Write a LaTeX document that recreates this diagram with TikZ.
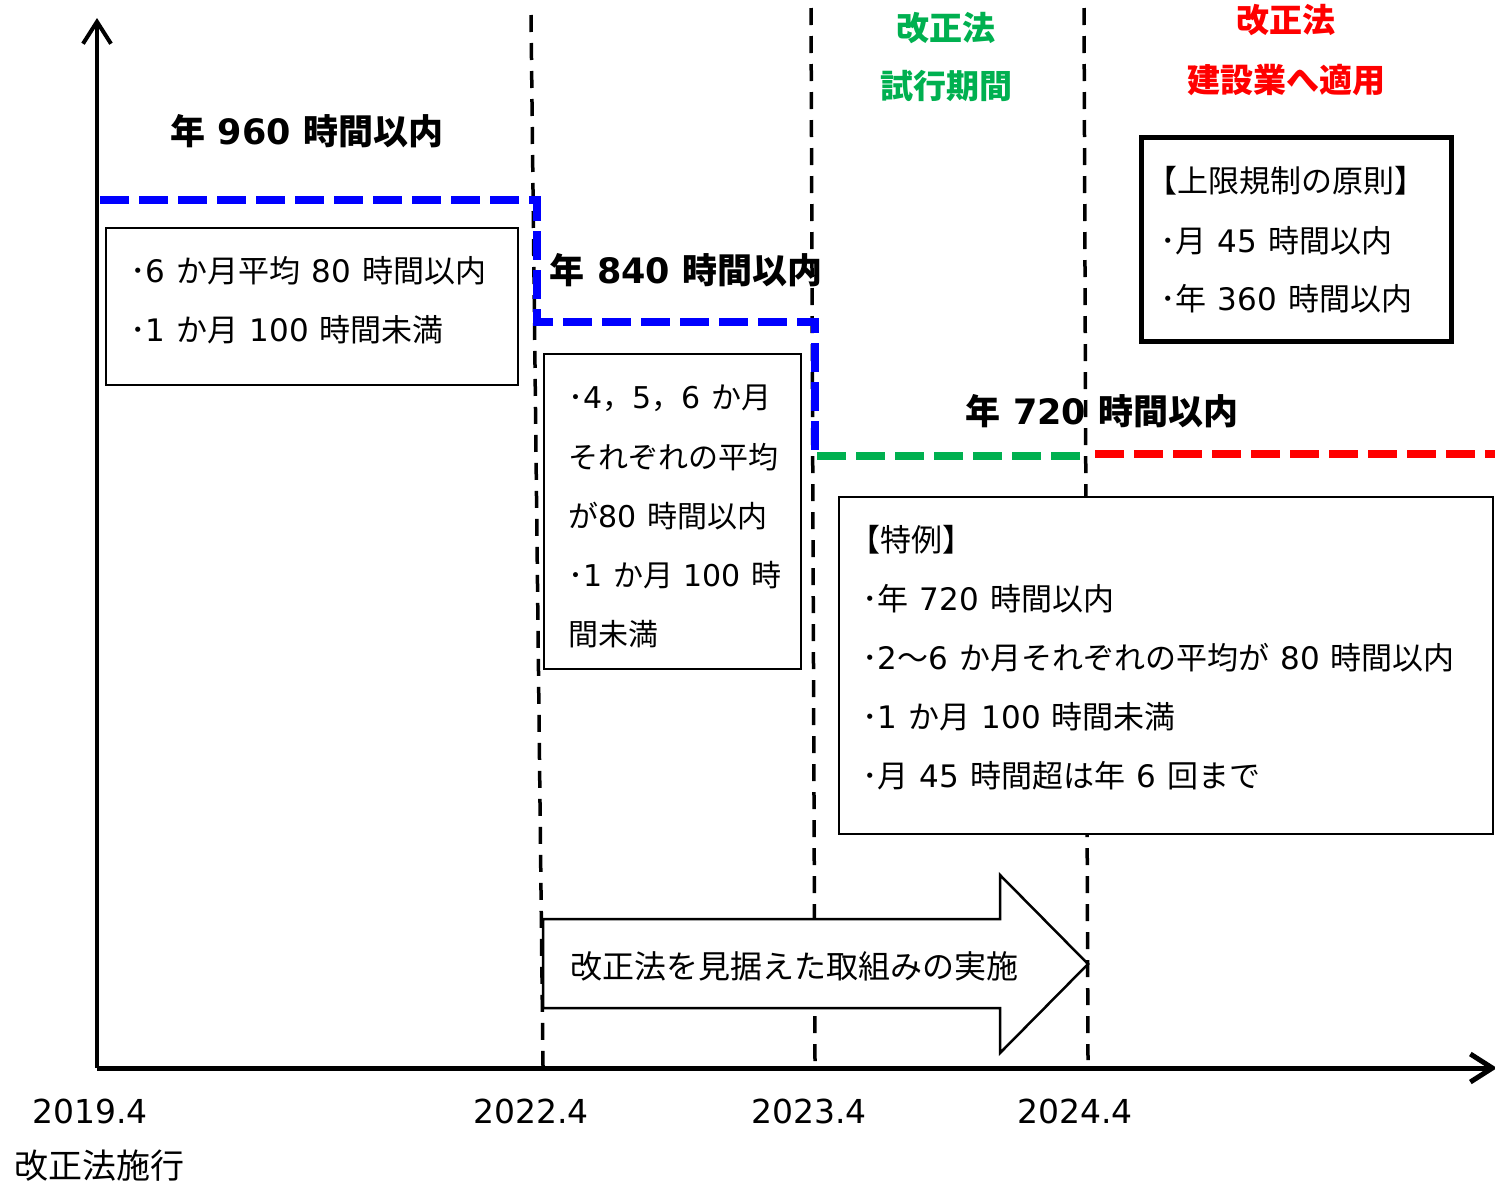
\documentclass[tikz,border=0pt]{standalone}
\usepackage{fontspec}
\setmainfont{Noto Sans CJK JP}[WordSpace=1.6]
\newfontfamily\dv{DejaVu Sans}
\newcommand\nm[1]{{\dv #1}}
\usetikzlibrary{arrows.meta}
\definecolor{cgreen}{RGB}{0,176,80}
\definecolor{cblue}{RGB}{0,0,255}
\definecolor{cred}{RGB}{255,0,0}
\begin{document}
\begin{tikzpicture}[x=1pt,y=-1pt,
  vdash/.style={line width=3.5pt, dash pattern=on 17pt off 11pt},
  limit/.style={line width=8.5pt, dash pattern=on 29pt off 10pt},
  txtbox/.style={draw, line width=2pt, fill=white, anchor=north west, inner sep=0pt},
  body/.style={anchor=west, inner sep=0pt, font=\fontsize{31}{36}\selectfont},
  bodyB/.style={anchor=west, inner sep=0pt, font=\fontsize{30}{36}\selectfont},
  ttl/.style={inner sep=0pt, font=\bfseries\fontsize{35}{42}\selectfont},
  hdr/.style={inner sep=0pt, font=\bfseries\fontsize{33}{40}\selectfont},
  datelbl/.style={inner sep=0pt, font=\fontsize{33}{40}\selectfont},
  axisline/.style={line width=4pt, -{Straight Barb[length=22pt,width=28pt]}}
]
\useasboundingbox (0,0) rectangle (1495,1184);
% time boundaries
\coordinate (v1t) at (531,15);  \coordinate (v1b) at (543,1066);
\coordinate (v2t) at (811,8);   \coordinate (v2b) at (815,1062);
\coordinate (v3t) at (1084,8);  \coordinate (v3b) at (1088,1060);
\draw[vdash] (v1t) -- (v1b);
\draw[vdash] (v2t) -- (v2b);
\draw[vdash] (v3t) -- (v3b);
% limit lines
\coordinate (b0) at (100,200); \coordinate (b1) at (537,200);
\coordinate (b2) at (537,322); \coordinate (b3) at (815,322);
\coordinate (b4) at (815,456);
\draw[limit, cblue, line join=miter] (b0) -- (b1) -- (b2) -- (b3) -- (b4);
\coordinate (g0) at (817,456); \coordinate (g1) at (1084,456);
\draw[limit, cgreen] (g0) -- (g1);
\coordinate (r0) at (1095,454); \coordinate (r1) at (1497,454);
\draw[limit, cred] (r0) -- (r1);
% boxes
\node[txtbox, minimum width=412pt, minimum height=157pt] (boxA) at (105,227) {};
\node[txtbox, minimum width=257pt, minimum height=315pt] (boxB) at (543,353) {};
\node[txtbox, line width=5pt, minimum width=310pt, minimum height=204pt] (boxC) at (1139,135) {};
\node[txtbox, minimum width=654pt, minimum height=337pt] (boxD) at (838,496) {};
% arrow
\draw[line width=2.5pt, fill=white, line join=miter] (543,919) -- (1000,919) -- (1000,875) -- (1088,964) -- (1000,1053) -- (1000,1008) -- (543,1008) -- cycle;
\node[body, font=\fontsize{32}{36}\selectfont] (arrtxt) at (570,966) {改正法を見据えた取組みの実施};
% titles
\node[ttl] (t960) at (307,131) {年 \nm{960} 時間以内};
\node[ttl, anchor=west] (t840) at (549,270) {年 \nm{840} 時間以内};
\node[ttl, anchor=west] (t720) at (965,411) {年 \nm{720} 時間以内};
\node[hdr, text=cgreen] (g1t) at (946,28) {改正法};
\node[hdr, text=cgreen] (g2t) at (946,86) {試行期間};
\node[hdr, text=cred] (r1t) at (1286,20) {改正法};
\node[hdr, text=cred] (r2t) at (1286,80) {建設業へ適用};
% box A text
\node[body] (a1) at (130,271) {･\nm{6} か月平均 \nm{80} 時間以内};
\node[body] (a2) at (130,330) {･\nm{1} か月 \nm{100} 時間未満};
% box B text
\node[bodyB] (bb1) at (568,398) {･\nm{4}，\nm{5}，\nm{6} か月};
\node[bodyB] (bb2) at (568,457) {それぞれの平均};
\node[bodyB] (bb3) at (568,516) {が\nm{80} 時間以内};
\node[bodyB] (bb4) at (568,575) {･\nm{1} か月 \nm{100} 時};
\node[bodyB] (bb5) at (568,634) {間未満};
% box C text
\node[body] (c1) at (1146,181) {【上限規制の原則】};
\node[body] (c2) at (1160,241) {･月 \nm{45} 時間以内};
\node[body] (c3) at (1160,299) {･年 \nm{360} 時間以内};
% box D text
\node[body] (d1) at (849,540) {【特例】};
\node[body] (d2) at (862,599) {･年 \nm{720} 時間以内};
\node[body] (d3) at (862,658) {･\nm{2}～\nm{6} か月それぞれの平均が \nm{80} 時間以内};
\node[body] (d4) at (862,717) {･\nm{1} か月 \nm{100} 時間未満};
\node[body] (d5) at (862,776) {･月 \nm{45} 時間超は年 \nm{6} 回まで};
% axes
\coordinate (O) at (97,1068);
\coordinate (ytop) at (97,18);
\coordinate (xend) at (1497,1068);
\draw[axisline] (O) -- (ytop);
\draw[axisline, line width=5pt] (O) -- (xend);
% dates
\node[datelbl] (d2019) at (90,1111) {\nm{2019.4}};
\node[datelbl] (d2022) at (531,1111) {\nm{2022.4}};
\node[datelbl] (d2023) at (809,1111) {\nm{2023.4}};
\node[datelbl] (d2024) at (1075,1111) {\nm{2024.4}};
\node[datelbl, anchor=west, font=\fontsize{34}{40}\selectfont] (law) at (14,1166) {改正法施行};
\end{tikzpicture}
\end{document}
